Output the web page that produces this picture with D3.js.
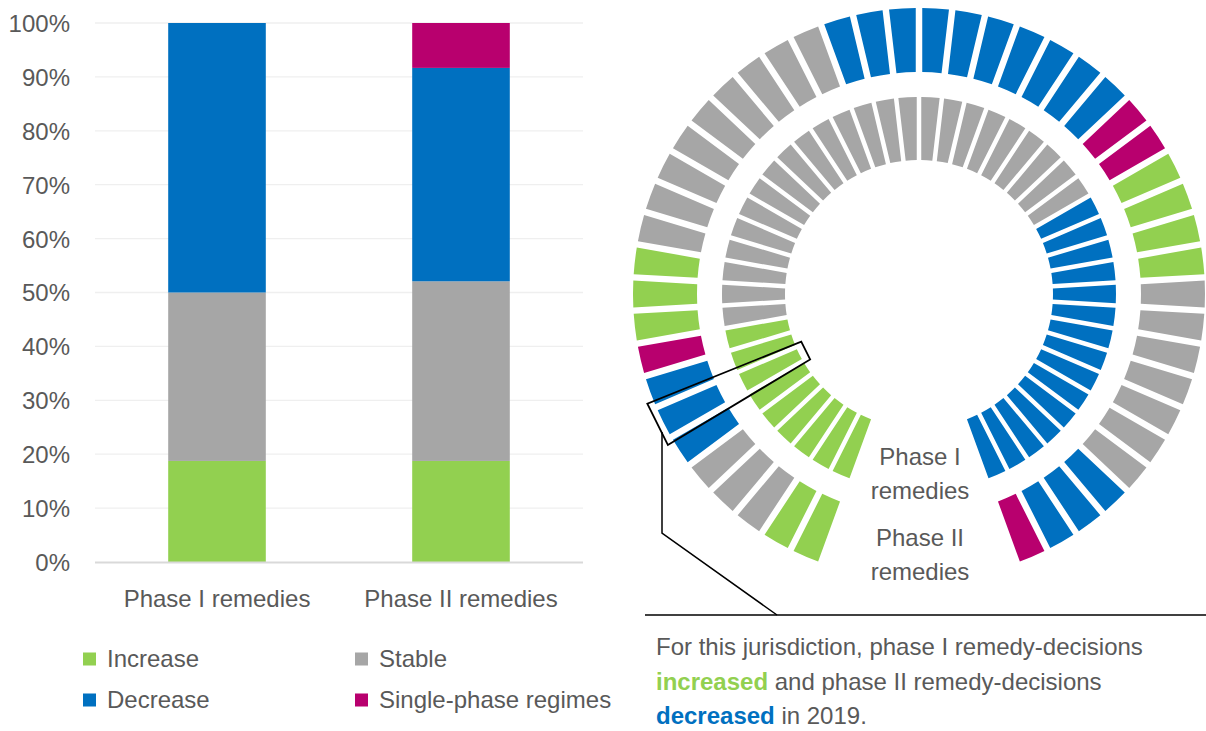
<!DOCTYPE html>
<html>
<head>
<meta charset="utf-8">
<script src="https://cdn.jsdelivr.net/npm/d3@7"></script>
<style>
  html, body { margin: 0; padding: 0; background: #fff; }
  svg { display: block; font-family: "Liberation Sans", Arial, sans-serif; }
</style>
</head>
<body>
<svg id="chart" width="1206" height="731"></svg>
<script>
// ---------- DATA ----------
const categories = ["Phase I remedies", "Phase II remedies"];
const seriesNames = ["Increase", "Stable", "Decrease", "Single-phase regimes"];
const increaseVals = [18.75, 18.75];
const stableVals = [31.25, 33.33];
const decreaseVals = [50.0, 39.59];
const singlePhaseVals = [0, 8.33];
const yTickValues = [0, 10, 20, 30, 40, 50, 60, 70, 80, 90, 100];

// ring segments (runs of consecutive segments, clockwise from the bottom-left end)
const phaseIRingRuns = [["Increase", 9], ["Stable", 24], ["Decrease", 15]];
const phaseIIRingRuns = [
  ["Increase", 2], ["Stable", 3], ["Decrease", 3], ["Single-phase regimes", 1],
  ["Increase", 3], ["Stable", 9], ["Decrease", 10], ["Single-phase regimes", 2],
  ["Increase", 4], ["Stable", 7], ["Decrease", 3], ["Single-phase regimes", 1]
];
const ringLabels = [["Phase I", "remedies"], ["Phase II", "remedies"]];
const noteLines = [
  [["For this jurisdiction, phase I remedy-decisions", null]],
  [["increased", "Increase"], [" and phase II remedy-decisions", null]],
  [["decreased", "Decrease"], [" in 2019.", null]]
];

// ---------- STYLE ----------
const colors = { "Increase": "#92D050", "Stable": "#A6A6A6", "Decrease": "#0070C0", "Single-phase regimes": "#B8006E" };
const textColor = "#595959";
const svg = d3.select("#chart");

// ---------- STACKED BAR CHART ----------
const rows = categories.map((c, i) => ({
  cat: c, "Increase": increaseVals[i], "Stable": stableVals[i],
  "Decrease": decreaseVals[i], "Single-phase regimes": singlePhaseVals[i]
}));
const stacked = d3.stack().keys(seriesNames)(rows);

const x = d3.scaleBand().domain(categories).range([95, 583]).paddingInner(0.6).paddingOuter(0.3);
const y = d3.scaleLinear().domain([0, 100]).range([562, 23]);

const grid = svg.append("g");
grid.selectAll("line").data(yTickValues.filter(v => v > 0)).join("line")
  .attr("x1", 95).attr("x2", 583)
  .attr("y1", d => y(d)).attr("y2", d => y(d))
  .attr("stroke", "#EFEFEF").attr("stroke-width", 1.3);

const yAxis = svg.append("g").attr("transform", "translate(70,0)")
  .call(d3.axisLeft(y).tickValues(yTickValues).tickFormat(d => d + "%").tickSize(0).tickPadding(0));
yAxis.select(".domain").remove();
yAxis.selectAll("text").attr("fill", textColor).style("font-size", "24px")
  .style("font-family", "'Liberation Sans', Arial, sans-serif").attr("dy", "0.35em");

svg.append("g").selectAll("g").data(stacked).join("g")
  .attr("fill", d => colors[d.key])
  .selectAll("rect").data(d => d).join("rect")
  .attr("x", d => x(d.data.cat)).attr("width", x.bandwidth())
  .attr("y", d => y(d[1])).attr("height", d => y(d[0]) - y(d[1]));

svg.append("line").attr("x1", 95).attr("x2", 583).attr("y1", y(0) + 0.5).attr("y2", y(0) + 0.5)
  .attr("stroke", "#D9D9D9").attr("stroke-width", 2);

const xAxis = svg.append("g").attr("transform", `translate(0,${y(0)})`)
  .call(d3.axisBottom(x).tickSize(0).tickPadding(0));
xAxis.select(".domain").remove();
xAxis.selectAll("text").attr("fill", textColor).style("font-size", "24px")
  .style("font-family", "'Liberation Sans', Arial, sans-serif").attr("y", 45).attr("dy", 0);

// legend
const legendPos = [[83, 659], [355, 659], [83, 700], [355, 700]];
const legend = svg.append("g").selectAll("g").data(seriesNames).join("g")
  .attr("transform", (d, i) => `translate(${legendPos[i][0]},${legendPos[i][1]})`);
legend.append("rect").attr("x", 0).attr("y", -6.5).attr("width", 13).attr("height", 13).attr("fill", d => colors[d]);
legend.append("text").attr("x", 24).attr("y", 0).attr("dy", "0.35em")
  .attr("fill", textColor).style("font-size", "24px").text(d => d);

// ---------- RINGS ----------
const cx = 919, cy = 294;
const deg = Math.PI / 180;
function expand(runs) {
  const out = [];
  runs.forEach(([k, n]) => { for (let j = 0; j < n; j++) out.push(k); });
  return out.map((k, i) => ({ key: k, i }));
}
const rings = [
  { segs: expand(phaseIRingRuns), r0: 134, r1: 197, gap: 4.5 },
  { segs: expand(phaseIIRingRuns), r0: 222, r1: 286, gap: 6.5 }
];
const ringG = svg.append("g").attr("transform", `translate(${cx},${cy})`);
rings.forEach(ring => {
  const ang = d3.scaleBand().domain(ring.segs.map(s => s.i)).range([-160 * deg, 160 * deg]);
  const arc = d3.arc().innerRadius(ring.r0).outerRadius(ring.r1)
    .padRadius(100).padAngle(ring.gap / 100)
    .startAngle(d => ang(d.i)).endAngle(d => ang(d.i) + ang.bandwidth());
  ringG.append("g").selectAll("path").data(ring.segs).join("path")
    .attr("d", arc).attr("fill", d => colors[d.key]);
});

// callout wedge
const wedgeA = [-121 * deg, -112 * deg], wedgeR = [127, 293];
const pt = (r, a) => [r * Math.sin(a), -r * Math.cos(a)];
const wedgePts = [pt(wedgeR[1], wedgeA[0]), pt(wedgeR[1], wedgeA[1]), pt(wedgeR[0], wedgeA[1]), pt(wedgeR[0], wedgeA[0])];
ringG.append("path").attr("d", d3.line()(wedgePts) + "Z")
  .attr("fill", "none").attr("stroke", "#000").attr("stroke-width", 1.8).attr("stroke-linejoin", "miter");

// leader line to note
svg.append("path").attr("d", d3.line()([[662, 432], [662, 533], [777, 615]]))
  .attr("fill", "none").attr("stroke", "#000").attr("stroke-width", 1.5);
svg.append("line").attr("x1", 645).attr("x2", 1206).attr("y1", 615).attr("y2", 615)
  .attr("stroke", "#000").attr("stroke-width", 1.5);

// ring labels
const lblY = [[457, 491], [538, 572]];
ringLabels.forEach((lines, i) => {
  lines.forEach((t, j) => {
    svg.append("text").attr("x", 920).attr("y", lblY[i][j]).attr("dy", "0.35em")
      .attr("text-anchor", "middle").attr("fill", textColor).style("font-size", "24px").text(t);
  });
});

// note text
const noteY = [647, 682, 716];
noteLines.forEach((parts, i) => {
  const t = svg.append("text").attr("x", 656).attr("y", noteY[i]).attr("dy", "0.35em")
    .style("font-size", "24px");
  parts.forEach(([s, k]) => {
    t.append("tspan").text(s).attr("fill", k ? colors[k] : textColor)
      .style("font-weight", k ? "bold" : "normal");
  });
});
</script>
</body>
</html>
